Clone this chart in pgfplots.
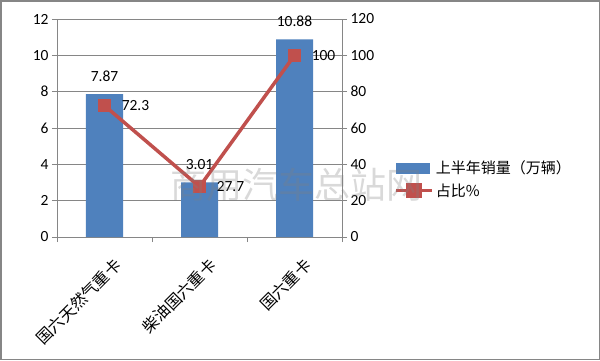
\documentclass[border=0pt]{standalone}
\usepackage{pgfplots}
\pgfplotsset{compat=1.18}
\usepackage{fontspec}
\setmainfont{Carlito}
\newfontfamily\cjk{Noto Sans CJK SC}
\definecolor{barblue}{HTML}{4F81BD}
\definecolor{linered}{HTML}{C0504D}
\definecolor{axgray}{HTML}{868686}
\begin{document}
\begin{tikzpicture}[x=1pt,y=1pt]
\path[use as bounding box] (0,0) rectangle (600,360);
\draw[color=axgray, line width=1.5pt] (0.75,0.75) rectangle (599.25,359.25);
\begin{axis}[at={(57pt,123pt)}, anchor=south west, scale only axis, width=285pt, height=218pt,
 xmin=-0.5,xmax=2.5,ymin=0,ymax=12,
 axis x line*=bottom, axis y line*=left,
 ytick={0,2,...,12}, ymajorgrids, grid style={axgray, line width=0.8pt},
 axis line style={axgray, line width=0.8pt},
 tick style={axgray, line width=0.8pt},
 tick align=outside, major tick length=5pt,
 xtick={0,1,2}, xticklabels={国六天然气重卡,柴油国六重卡,国六重卡},
 major x tick style={draw=none},
 minor xtick={-0.5,0.5,1.5,2.5}, minor tick length=5pt,
 minor x tick style={axgray, line width=0.8pt},
 x tick label style={rotate=45, anchor=north east, font=\cjk\fontsize{16}{16}\selectfont, xshift=-1pt, yshift=-13pt},
 y tick label style={font=\fontsize{15.5}{16}\selectfont},
 /pgf/number format/assume math mode=true,
 ybar, bar width=37pt,
]
\addplot[fill=barblue, draw=none, nodes near coords, nodes near coords style={anchor=center, yshift=18pt, font=\fontsize{15.5}{16}\selectfont, black}] coordinates {(0,7.87)(1,3.01)(2,10.88)};
\end{axis}
\begin{axis}[at={(57pt,123pt)}, anchor=south west, scale only axis, width=285pt, height=218pt,
 xmin=-0.5,xmax=2.5,ymin=0,ymax=120,
 axis x line=none, axis y line*=right,
 ytick={0,20,...,120},
 axis line style={axgray, line width=0.8pt},
 tick style={axgray, line width=0.8pt},
 tick align=outside, major tick length=5pt,
 y tick label style={font=\fontsize{15.5}{16}\selectfont},
 /pgf/number format/assume math mode=true,
 legend style={at={(1.183,0.358)}, anchor=north west, draw=none, fill=none, inner sep=0pt, font=\cjk\fontsize{15}{15}\selectfont, row sep=4pt},
 legend cell align=left,
]
\addlegendimage{legend image code/.code={\fill[barblue] (0pt,-5pt) rectangle (33pt,5pt);}}
\addlegendentry{上半年销量（万辆）}
\addplot[linered, line width=3.5pt, mark=square*, mark size=6pt, mark options={fill=linered, draw=linered, line width=0.5pt},
 nodes near coords, nodes near coords style={anchor=west, inner sep=0pt, xshift=17pt, font=\fontsize{15.5}{16}\selectfont, black},
 legend image code/.code={\draw[linered,line width=3.5pt] (0pt,0pt)--(36pt,0pt); \fill[linered] (11.5pt,-6pt) rectangle (24.5pt,6pt);}] coordinates {(0,72.3)(1,27.7)(2,100)};
\addlegendentry{占比\%}
\end{axis}
\node[text=gray, font=\cjk\fontsize{36}{36}\selectfont, opacity=0.3] at (296,175) {商用汽车总站网};
\end{tikzpicture}
\end{document}
